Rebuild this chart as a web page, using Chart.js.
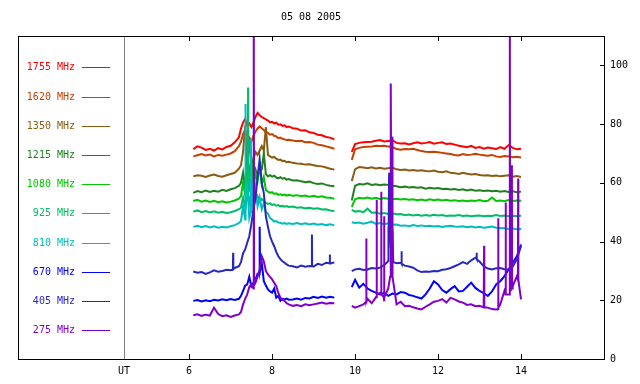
<!DOCTYPE html>
<html>
<head>
<meta charset="utf-8">
<script src="https://cdn.jsdelivr.net/npm/chart.js@4"></script>
<style>
  html, body { margin: 0; background: #fff; }
</style>
</head>
<body>
<canvas id="myChart" width="640" height="384"></canvas>
<script>
// ---- data (UT hours / arbitrary flux units) ----
const title = '05 08 2005';
const xTicks = [4.43, 6, 8, 10, 12, 14];
const utPos = 4.43;
const yTicks = [0, 20, 40, 60, 80, 100];
const gapAt = 9.7;

const time = [
  6.1, 6.2, 6.3, 6.4, 6.5, 6.6, 6.7, 6.8, 6.9, 7.0, 7.1, 7.2,
  7.25, 7.3, 7.35, 7.4, 7.45, 7.5, 7.55, 7.6, 7.65, 7.7, 7.75, 7.8, 7.85, 7.9, 7.95, 8.0, 8.05, 8.1, 8.15, 8.2, 8.25, 8.3, 8.35, 8.4,
  8.5, 8.6, 8.7, 8.8, 8.9, 9.0, 9.1, 9.2, 9.3, 9.4, 9.5,
  9.92, 10.0, 10.1, 10.2, 10.3, 10.4, 10.5, 10.6, 10.7, 10.8, 10.9, 11.0, 11.1, 11.2, 11.3, 11.4, 11.5, 11.6, 11.7, 11.8, 11.9,
  12.0, 12.1, 12.2, 12.3, 12.4, 12.5, 12.6, 12.7, 12.8, 12.9, 13.0, 13.1, 13.2, 13.3, 13.4, 13.5, 13.6, 13.7, 13.8, 13.9, 14.0
];

const f1755 = [
  71.5, 72.4, 72.0, 71.2, 71.6, 71.0, 71.8, 71.4, 72.2, 72.6, 73.8, 75.5,
  78.5, 80.5, 81.8, 79.5, 80.2, 79.0, 80.5, 82.5, 83.8, 83.0, 82.4, 82.0, 81.6, 81.2, 80.6, 80.8, 80.2, 80.5, 79.8, 79.9, 79.4, 79.6, 79.0, 79.2,
  78.6, 78.4, 77.8, 77.9, 77.2, 77.0, 76.4, 76.2, 75.6, 75.4, 74.8,
  70.5, 73.2, 73.6, 73.8, 73.9, 74.0, 74.3, 74.6, 74.1, 74.2, 74.5, 73.6, 73.4, 73.5, 73.1, 73.5, 73.8, 73.4, 73.6, 73.9, 73.3,
  73.6, 73.8, 73.2, 73.4, 73.0, 72.6, 72.4, 72.1, 72.6, 71.9, 72.2, 71.6, 72.0, 71.8, 71.5, 72.2, 71.6, 72.8, 71.9, 71.4, 71.6
];
const f1620 = [
  69.0, 69.4, 69.8, 69.3, 69.6, 69.0, 69.5, 69.2, 69.6, 70.0, 70.8, 72.5,
  74.0, 76.5, 78.0, 76.2, 75.5, 74.0, 76.0, 77.5, 78.5, 79.2, 78.6, 78.0, 77.2, 77.0, 76.4, 76.6, 76.0, 75.8, 75.2, 75.4, 75.0, 74.8, 74.6, 74.7,
  74.4, 74.2, 74.3, 73.8, 73.9, 73.6, 73.0, 72.8, 72.4, 72.0, 71.6,
  67.8, 71.4, 71.9, 72.2, 72.3, 72.4, 72.6, 72.5, 72.6, 72.4, 72.2, 71.5, 71.3, 71.5, 71.4, 71.6, 71.2, 70.8, 70.6, 70.5, 70.6,
  70.4, 70.2, 70.0, 69.8, 69.5, 69.3, 69.8, 69.5, 69.6, 69.9, 69.6, 69.4, 69.2, 69.5, 69.0, 68.8, 69.1, 69.0, 68.7, 68.9, 68.6
];
const f1350 = [
  62.2, 62.6, 62.4, 62.0, 62.5, 62.8, 62.3, 62.1, 62.6, 63.0, 63.4, 64.8,
  66.0, 70.5, 79.5, 68.0, 73.0, 66.5, 68.0, 70.5, 69.5, 71.0, 72.5, 71.0, 79.0, 69.5, 69.0, 68.6, 68.8, 68.2, 67.8, 67.9, 67.4, 67.5, 67.0, 67.2,
  66.8, 66.6, 66.5, 66.2, 66.3, 66.0, 65.7, 65.6, 65.2, 64.8, 64.5,
  60.6, 64.6, 65.4, 65.2, 65.0, 65.3, 64.9, 65.1, 64.8, 65.0, 65.2, 64.6, 64.4, 64.5, 64.2, 64.4, 64.1, 64.3, 64.0, 63.9, 64.2,
  63.8, 63.6, 63.9, 63.4, 63.3, 63.0, 63.4, 63.1, 62.8, 63.0, 62.7, 62.5, 62.6, 62.3, 62.5, 62.2, 62.4, 62.6, 62.1, 62.3, 62.0
];
const f1215 = [
  56.6, 57.2, 56.8, 57.4, 56.9, 57.3, 57.0, 57.6, 57.2, 57.8, 58.2, 59.0,
  60.0, 63.5, 58.0, 70.0, 62.0, 68.5, 61.0, 64.5, 62.5, 63.8, 64.5, 70.0, 63.0, 62.2, 62.6, 62.1, 62.4, 61.8, 61.5, 61.9, 61.4, 61.6, 61.1, 61.3,
  60.8, 60.9, 60.5, 60.2, 60.4, 59.9, 59.6, 59.8, 59.3, 59.0, 58.8,
  54.0, 59.0, 59.6, 59.4, 59.8, 59.3, 59.5, 59.2, 59.4, 59.3, 59.0, 58.8, 58.5, 58.7, 58.4, 58.6, 58.3, 58.5, 58.0, 58.3, 58.1,
  58.2, 57.9, 58.0, 57.7, 57.9, 57.6, 57.8, 57.4, 57.7, 57.3, 57.5, 57.2, 57.4, 57.1, 57.3, 57.0, 57.2, 56.9, 57.1, 56.8, 57.0
];
const f1080 = [
  53.8, 54.2, 53.6, 54.0, 53.5, 53.9, 53.4, 53.7, 53.3, 53.6, 54.0, 54.6,
  55.5, 60.0, 56.0, 65.0, 57.0, 68.0, 58.5, 63.0, 60.5, 66.0, 59.5, 62.0, 57.5, 57.0, 56.6, 56.8, 56.2, 56.4, 55.9, 56.1, 55.8, 56.0, 55.6, 55.9,
  55.6, 55.8, 55.4, 55.7, 55.3, 55.6, 55.2, 55.4, 55.0, 54.9, 54.6,
  51.8, 54.4, 54.9, 54.7, 55.0, 54.6, 54.9, 54.5, 54.8, 54.6, 54.4, 54.6, 54.3, 54.5, 54.2, 54.4, 54.1, 54.3, 54.0, 54.4, 54.1,
  54.3, 54.0, 54.2, 53.9, 54.1, 53.8, 54.0, 53.7, 54.0, 53.8, 54.1, 53.7, 53.9, 55.0, 53.8, 54.0, 53.7, 54.1, 53.8, 54.0, 53.9
];
const f925 = [
  50.2, 50.6, 50.0, 50.4, 49.9, 50.3, 49.8, 50.1, 49.7, 50.0, 50.4, 51.0,
  51.5, 55.0, 52.0, 58.0, 53.0, 56.5, 52.5, 54.0, 55.5, 53.5, 54.5, 53.8, 53.2, 52.8, 53.0, 52.5, 52.7, 52.2, 52.4, 52.0, 52.2, 51.9, 52.1, 51.8,
  51.9, 51.5, 51.7, 51.3, 51.5, 51.2, 51.3, 50.9, 51.0, 50.6, 50.4,
  50.8, 50.2, 50.4, 50.0, 51.2, 49.8, 49.9, 49.5, 49.7, 49.4, 49.6, 49.3, 49.4, 49.0, 49.2, 48.9, 49.1, 48.8, 49.0, 48.8, 49.1,
  48.9, 49.0, 48.7, 48.9, 48.8, 49.0, 48.7, 48.9, 48.6, 48.8, 48.9, 48.6, 48.8, 48.7, 49.0, 48.7, 48.9, 48.6, 48.8, 48.7, 48.8
];
const f810 = [
  45.0, 45.4, 44.9, 45.3, 44.8, 45.2, 44.7, 45.0, 44.8, 45.2, 45.6, 46.3,
  47.0, 52.0, 47.5, 60.0, 48.0, 62.0, 50.0, 58.0, 52.0, 55.0, 51.0, 53.0, 50.0, 49.5, 48.0, 47.5, 46.8, 47.0, 46.5, 46.4, 46.1, 46.3, 46.0, 46.2,
  46.0, 46.3, 45.9, 46.2, 45.8, 46.1, 45.7, 46.0, 45.6, 45.9, 45.5,
  46.6, 46.3, 46.5, 46.1, 46.4, 46.8, 46.0, 46.3, 45.9, 46.2, 45.7, 45.8, 45.4, 45.5, 45.2, 45.6, 45.3, 45.5, 45.2, 45.4, 45.1,
  45.3, 45.0, 45.2, 45.4, 45.1, 45.0, 45.2, 44.9, 45.1, 44.8, 45.0, 44.7, 44.9, 45.1, 44.7, 44.6, 44.5, 44.3, 44.4, 44.2, 44.3
];
const f670 = [
  19.8, 20.1, 19.6, 20.0, 19.7, 20.2, 19.9, 20.3, 20.0, 20.4, 20.1, 20.5,
  21.5, 23.2, 25.0, 25.4, 28.0, 24.8, 26.0, 27.1, 29.0, 30.5, 32.8, 26.5, 25.0, 23.7, 23.0, 22.6, 24.0, 20.9, 21.5, 19.8, 20.5, 20.3, 20.6, 20.2,
  20.3, 20.6, 20.2, 20.8, 20.6, 21.2, 20.8, 21.3, 20.9, 21.2, 20.9,
  24.5, 27.0, 24.3, 25.6, 24.0, 23.2, 22.6, 22.0, 22.5, 21.5, 22.3, 22.0, 22.8, 22.6, 21.8, 21.5, 21.0, 20.6, 22.0, 24.0, 26.5,
  25.4, 23.5, 22.6, 23.8, 24.8, 23.0, 23.2, 24.6, 26.0, 24.2, 23.2, 22.4, 21.5, 23.0, 25.4, 26.5, 28.2, 30.5, 32.8, 35.0, 39.0
];
const f405 = [
  29.8, 29.4, 29.6, 29.0, 29.5, 30.2, 29.7, 30.0, 30.4, 30.2, 31.0, 31.6,
  33.0, 36.0, 37.3, 39.6, 41.8, 46.0, 50.8, 55.0, 62.0, 68.0, 60.0, 56.5, 48.6, 45.0, 41.8, 40.0, 38.4, 36.5, 35.0, 34.0, 33.3, 32.8, 32.2, 31.8,
  31.6, 31.2, 31.8, 31.4, 31.7, 31.5, 32.4, 32.0, 32.8, 32.5, 32.9,
  29.9, 30.5, 30.7, 30.3, 30.5, 31.0, 30.8, 31.1, 32.0, 33.5, 33.0, 32.6, 32.8, 31.8, 31.5, 31.1, 30.2, 29.6, 29.8, 29.7, 30.0,
  29.9, 30.4, 30.6, 31.0, 31.6, 32.2, 33.0, 32.4, 33.6, 34.5, 33.2, 31.6, 30.8, 30.5, 30.9, 31.0, 30.6, 30.5, 31.5, 33.9, 38.5
];
const f275 = [
  14.9, 15.2, 14.7, 15.1, 14.8, 17.5, 15.3, 14.6, 14.9, 14.3, 14.8, 15.2,
  16.0, 18.6, 20.5, 22.0, 24.5, 25.4, 24.0, 26.0, 28.0, 30.5, 35.0, 33.3, 30.0, 28.8, 28.0, 27.1, 26.0, 24.8, 22.5, 20.9, 20.2, 19.8, 19.0, 18.6,
  18.1, 18.4, 18.0, 18.6, 18.3, 18.6, 18.9, 19.2, 18.8, 19.1, 19.0,
  18.1, 17.5, 18.0, 18.6, 20.5, 19.0, 21.0, 22.5, 20.0, 24.0, 30.0, 18.6, 19.5, 18.0, 18.1, 17.6, 17.2, 16.9, 17.8, 18.6, 19.5,
  19.8, 20.4, 19.2, 20.8, 20.3, 19.6, 19.2, 18.4, 18.6, 18.0, 18.1, 17.6, 17.5, 17.0, 16.9, 18.6, 23.2, 22.0, 24.8, 28.2, 20.3
];

// short spikes as [hour, value]
const spikes925 = [[7.415, 57.0], [7.42, 92.5], [7.425, 56.0]];
const spikes810 = [[7.355, 48.0], [7.36, 86.8], [7.365, 50.0], [7.485, 50.0], [7.49, 75.0], [7.495, 52.0]];
const spikes670 = [[7.69, 29.0], [7.7, 45.0], [7.71, 30.0]];
const spikes405 = [
  [7.055, 30.4], [7.06, 36.2], [7.065, 30.6],
  [8.955, 31.6], [8.96, 42.4], [8.965, 31.8],
  [9.385, 32.6], [9.39, 35.6], [9.395, 32.6],
  [10.78, 33.0], [10.8, 45.0], [10.81, 36.0], [10.82, 63.4], [10.83, 40.0], [10.84, 52.0], [10.86, 38.0], [10.87, 48.0], [10.88, 36.0], [10.9, 44.0], [10.92, 33.0],
  [11.115, 32.6], [11.12, 36.7], [11.125, 32.4],
  [12.925, 34.2], [12.93, 36.2], [12.935, 34.0]
];
const spikes275 = [
  [7.555, 25.0], [7.56, 130.0], [7.565, 25.0],
  [10.265, 19.5], [10.27, 41.0], [10.275, 19.5],
  [10.515, 21.0], [10.52, 54.2], [10.525, 22.0],
  [10.625, 22.0], [10.63, 57.0], [10.635, 22.0],
  [10.695, 21.0], [10.7, 48.6], [10.705, 21.0],
  [10.845, 28.0], [10.86, 93.8], [10.875, 40.0], [10.89, 75.7], [10.905, 28.0],
  [13.105, 17.6], [13.11, 38.6], [13.115, 17.6],
  [13.445, 17.0], [13.45, 47.9], [13.455, 17.5],
  [13.625, 22.0], [13.63, 53.3], [13.635, 22.0],
  [13.725, 22.0], [13.73, 130.0], [13.735, 23.0],
  [13.775, 24.0], [13.78, 66.0], [13.785, 24.0],
  [13.925, 27.0], [13.93, 61.5], [13.935, 27.0]
];

// legend order, top to bottom
const labels = ['1755 MHz', '1620 MHz', '1350 MHz', '1215 MHz', '1080 MHz', '925 MHz', '810 MHz', '670 MHz', '405 MHz', '275 MHz'];
const colors = ['#ff0000', '#c84000', '#8c5a10', '#208020', '#00c800', '#00be64', '#00bebe', '#0000ff', '#2828c0', '#8000c8'];
const values = [f1755, f1620, f1350, f1215, f1080, f925, f810, f670, f405, f275];
const spikes = [[], [], [], [], [], spikes925, spikes810, spikes670, spikes405, spikes275];

function build(vals, extra) {
  var pts = time.map(function (t, i) { return { x: t, y: vals[i] } });
  pts.push({ x: gapAt, y: null });
  extra.forEach(function (p) { pts.push({ x: p[0], y: p[1] }) });
  pts.sort(function (a, b) { return a.x - b.x });
  return pts;
}

var datasets = [];
for (let i = 0; i < labels.length; i++) {
  datasets.push({
    label: labels[i],
    data: build(values[i], spikes[i]),
    borderColor: colors[i],
    backgroundColor: colors[i],
    borderWidth: 2,
    pointRadius: 0,
    fill: false,
    spanGaps: false,
    order: labels.length - i   // low frequencies drawn on top
  });
}

const monoFont = 'DejaVu Sans Mono';

// frame, inward ticks, UT line, title and the left legend
const frame = {
  id: 'frame',
  afterDraw(chart) {
    const c = chart.ctx;
    const a = chart.chartArea;
    const xs = chart.scales.x, ys = chart.scales.y;
    c.save();
    c.lineWidth = 1;

    // UT separator
    c.strokeStyle = '#808080';
    const ux = Math.round(xs.getPixelForValue(utPos)) + 0.5;
    c.beginPath(); c.moveTo(ux, a.top); c.lineTo(ux, a.bottom); c.stroke();

    // box
    c.strokeStyle = '#000';
    c.strokeRect(Math.round(a.left) + 0.5, Math.round(a.top) + 0.5, Math.round(a.right - a.left), Math.round(a.bottom - a.top));

    // x ticks top and bottom, pointing inward
    c.beginPath();
    xTicks.forEach(function (v) {
      if (v === utPos) return;
      const px = Math.round(xs.getPixelForValue(v)) + 0.5;
      c.moveTo(px, a.top); c.lineTo(px, a.top + 5);
      c.moveTo(px, a.bottom); c.lineTo(px, a.bottom - 5);
    });
    // y ticks on the right, inward
    yTicks.forEach(function (v) {
      const py = Math.round(ys.getPixelForValue(v)) + 0.5;
      c.moveTo(a.right, py); c.lineTo(a.right - 4, py);
    });
    c.stroke();

    // title
    c.fillStyle = '#000';
    c.font = '10px "' + monoFont + '"';
    c.textAlign = 'center';
    c.textBaseline = 'middle';
    c.fillText(title, (a.left + a.right) / 2, 17);

    // legend
    c.textAlign = 'right';
    for (let i = 0; i < labels.length; i++) {
      const y = Math.round(a.top + 31.3 + i * 29.2) + 0.5;
      c.fillStyle = colors[i];
      c.fillText(labels[i], a.left + 57, y);
      c.strokeStyle = colors[i];
      c.beginPath(); c.moveTo(a.left + 64, y); c.lineTo(a.left + 92, y); c.stroke();
    }
    c.restore();
  }
};

var ctx = document.getElementById('myChart').getContext('2d');
var myChart = new Chart(ctx, {
  type: 'line',
  data: { datasets: datasets },
  options: {
    responsive: false,
    animation: false,
    layout: { padding: { left: 18, top: 36, right: 0, bottom: 0 } },
    plugins: { legend: { display: false }, title: { display: false }, tooltip: { enabled: false } },
    scales: {
      x: {
        type: 'linear', min: 1.875, max: 16,
        grid: { display: false, drawTicks: false }, border: { display: false },
        afterBuildTicks: function (s) { s.ticks = xTicks.map(function (v) { return { value: v } }) },
        afterFit: function (s) { s.height = 25 },
        ticks: {
          padding: 6, autoSkip: false, maxRotation: 0, color: '#000',
          font: { family: monoFont, size: 10 },
          callback: function (v) { return v === utPos ? 'UT' : String(v) }
        }
      },
      y: {
        position: 'right', min: 0, max: 110,
        grid: { display: false, drawTicks: false }, border: { display: false },
        afterBuildTicks: function (s) { s.ticks = yTicks.map(function (v) { return { value: v } }) },
        afterFit: function (s) { s.width = 36 },
        ticks: { padding: 6, color: '#000', font: { family: monoFont, size: 10 } }
      }
    }
  },
  plugins: [frame]
});
</script>
</body>
</html>
